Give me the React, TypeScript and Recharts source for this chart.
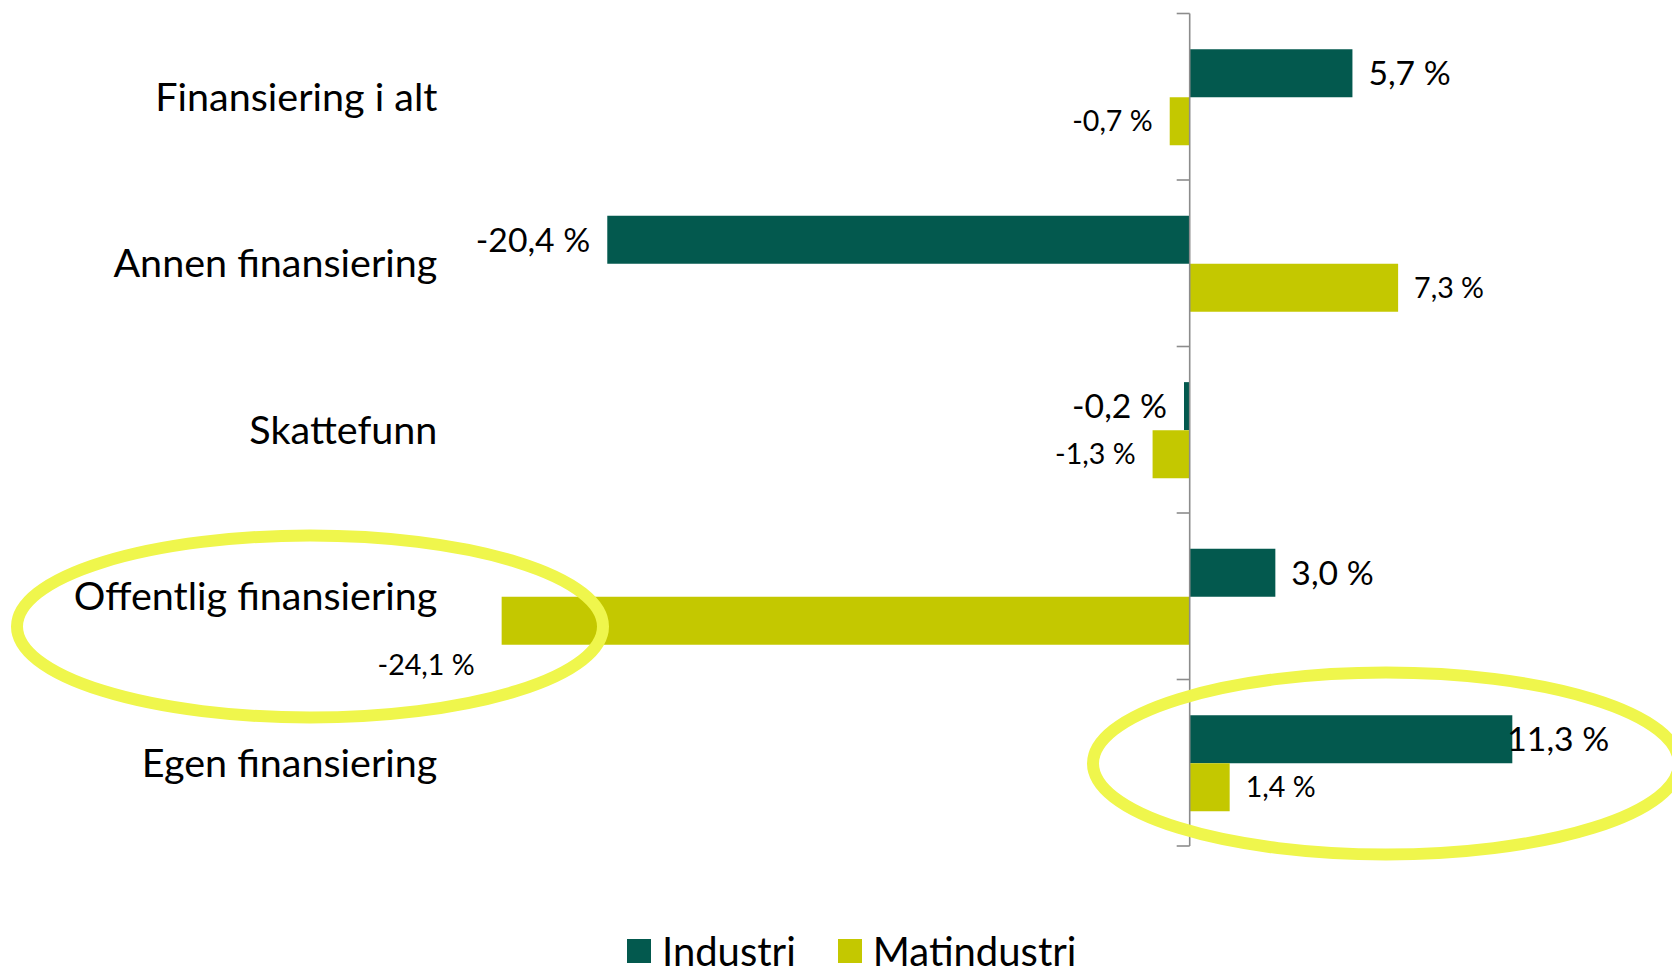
import React from 'react';
import { BarChart, Bar, XAxis, YAxis, ReferenceLine, LabelList, Legend } from 'recharts';

const categories = ['Finansiering i alt', 'Annen finansiering', 'Skattefunn', 'Offentlig finansiering', 'Egen finansiering'];
const industri = [5.7, -20.4, -0.2, 3.0, 11.3];
const matindustri = [-0.7, 7.3, -1.3, -24.1, 1.4];
const industriLabels = ['5,7 %', '-20,4 %', '-0,2 %', '3,0 %', '11,3 %'];
const matindustriLabels = ['-0,7 %', '7,3 %', '-1,3 %', '-24,1 %', '1,4 %'];
const seriesNames = ['Industri', 'Matindustri'];
const xDomain = [-26, 16];

const data = categories.map((name, i) => ({
  name,
  industri: industri[i],
  matindustri: matindustri[i],
  industriLabel: industriLabels[i],
  matindustriLabel: matindustriLabels[i],
}));

const COLORS = { industri: '#03594E', matindustri: '#C4C800', ring: '#EFF64C' };
const FONT = 'Lato, "Open Sans", sans-serif';

// label nudges (annotation layout only)
const labelNudge: Record<string, { dx: number; dy: number }> = {
  'matindustri-3': { dx: -10, dy: 44 },
  'industri-4': { dx: -21, dy: 0 },
};

const makeLabel = (key: string, fontSize: number, values: number[]) => (props: any) => {
  const vb = props.viewBox || props;
  const x = Number(vb.x ?? props.x);
  const y = Number(vb.y ?? props.y);
  const w = Number(vb.width ?? props.width);
  const h = Number(vb.height ?? props.height);
  const idx = props.index;
  const v = values[idx];
  const left = Math.min(x, x + w);
  const right = Math.max(x, x + w);
  const cy = y + h / 2;
  const n = labelNudge[`${key}-${idx}`] || { dx: 0, dy: 0 };
  const neg = v < 0;
  return (
    <text
      x={(neg ? left - 17 : right + 16) + n.dx}
      y={cy + n.dy}
      dy="0.36em"
      textAnchor={neg ? 'end' : 'start'}
      fontFamily={FONT}
      fontSize={fontSize}
      fill="#000"
    >
      {props.value}
    </text>
  );
};

const ZeroAxis = (props: any) => {
  const { x1, y1, x2, y2 } = props;
  const n = categories.length;
  const ticks = Array.from({ length: n + 1 }, (_, i) => y1 + ((y2 - y1) * i) / n);
  return (
    <g>
      <line x1={x1} y1={y1} x2={x2} y2={y2} stroke="#8C8C8C" strokeWidth={1.6} />
      {ticks.map((ty, i) => (
        <line key={i} x1={x1 - 13} y1={ty} x2={x1} y2={ty} stroke="#8C8C8C" strokeWidth={1.6} />
      ))}
    </g>
  );
};

const CategoryTick = (props: any) => {
  const { x, y, payload } = props;
  return (
    <text x={x} y={y} dy="0.36em" textAnchor="end" fontFamily={FONT} fontSize={39.5} fill="#000">
      {payload.value}
    </text>
  );
};

const LegendContent = () => (
  <div style={{ display: 'flex', alignItems: 'center', height: 34, paddingLeft: 627, fontFamily: FONT, fontSize: 40, color: '#000' }}>
    {[COLORS.industri, COLORS.matindustri].map((c, i) => (
      <div key={i} style={{ display: 'flex', alignItems: 'center', marginRight: 42 }}>
        <div style={{ width: 24, height: 24, background: c, marginRight: 11 }} />
        <span style={{ lineHeight: '34px' }}>{seriesNames[i]}</span>
      </div>
    ))}
  </div>
);

export default function App() {
  return (
    <div style={{ position: 'absolute', left: 0, top: 0, width: 1672, height: 967, background: '#fff' }}>
      <BarChart
        width={1672}
        height={967}
        data={data}
        layout="vertical"
        margin={{ top: 13.5, right: 25.5, bottom: 87, left: 0 }}
        barCategoryGap="21.4%"
        barGap={0}
      >
        <XAxis type="number" domain={xDomain} hide allowDataOverflow />
        <YAxis
          type="category"
          dataKey="name"
          width={447.4}
          axisLine={false}
          tickLine={false}
          tickSize={0}
          tickMargin={10}
          tick={<CategoryTick />}
          interval={0}
        />
        <Legend
          verticalAlign="bottom"
          content={<LegendContent />}
          wrapperStyle={{ top: 934, left: 0, width: 1672, height: 34 }}
        />
        <Bar dataKey="industri" name={seriesNames[0]} fill={COLORS.industri} isAnimationActive={false}>
          <LabelList dataKey="industriLabel" content={makeLabel('industri', 33.7, industri)} />
        </Bar>
        <Bar dataKey="matindustri" name={seriesNames[1]} fill={COLORS.matindustri} isAnimationActive={false}>
          <LabelList dataKey="matindustriLabel" content={makeLabel('matindustri', 28.6, matindustri)} />
        </Bar>
        <ReferenceLine x={0} shape={<ZeroAxis />} ifOverflow="visible" />
      </BarChart>
      <svg
        width={1672}
        height={967}
        style={{ position: 'absolute', left: 0, top: 0, pointerEvents: 'none' }}
      >
        <ellipse cx={310} cy={626.5} rx={293} ry={91} fill="none" stroke={COLORS.ring} strokeWidth={12} />
        <ellipse cx={1386} cy={763.5} rx={293} ry={91} fill="none" stroke={COLORS.ring} strokeWidth={12} />
      </svg>
    </div>
  );
}
